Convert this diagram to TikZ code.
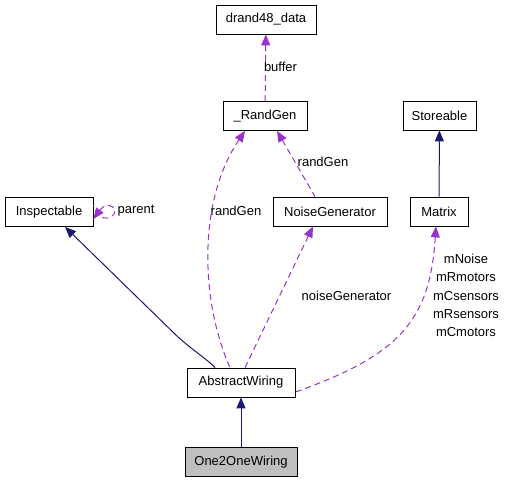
\documentclass[tikz,border=0pt]{standalone}
\usepackage{fontspec}
\setmainfont{Liberation Sans}
\usepackage{xcolor}
\usetikzlibrary{arrows.meta,positioning,calc}
\definecolor{edgeblue}{RGB}{25,25,112}
\definecolor{edgepurple}{RGB}{153,50,204}
\definecolor{boxgray}{RGB}{191,191,191}

\begin{document}
\begin{tikzpicture}[x=1pt, y=-1pt,
    cls/.style={draw=black, line width=0.8pt, fill=white, inner sep=0pt,
        minimum height=29pt, font=\fontsize{13}{15}\selectfont},
    lbl/.style={inner sep=0pt, font=\fontsize{13}{15}\selectfont},
    dep/.style={edgepurple, line width=1pt, dash pattern=on 6pt off 4pt,
        {Triangle[length=11pt,width=9pt]}-},
    inh/.style={edgeblue, line width=1pt,
        {Triangle[length=11pt,width=9pt]}-}]
    \useasboundingbox (0,0) rectangle (505,483);
    % Class boxes
    \node[cls, minimum width=100pt] (drand) at (266,19.5) {drand48\_data};
    \node[cls, minimum width=84pt] (randgen) at (265,116) {\_RandGen};
    \node[cls, minimum width=73pt] (storeable) at (439.5,115.5) {Storeable};
    \node[cls, minimum width=88pt] (inspectable) at (49,212) {Inspectable};
    \node[cls, minimum width=114pt] (noisegen) at (330,211.5) {NoiseGenerator};
    \node[cls, minimum width=58pt] (matrix) at (439,211.5) {Matrix};
    \node[cls, minimum width=108pt] (abstract) at (241,382.5) {AbstractWiring};
    \node[cls, minimum width=112pt, fill=boxgray] (one2one) at (241,462) {One2OneWiring};
    % Inheritance
    \draw[inh] (storeable) -- (matrix);
    \draw[inh] (abstract) -- (one2one);
    \draw[inh] ([xshift=16]inspectable.south) -- (178,337)
        .. controls (195,352) and (208,360) .. ([xshift=-26]abstract.north);
    % Usage relations
    \draw[dep] (drand) -- (randgen);
    \draw[dep] ([xshift=-20]randgen.south)
        .. controls (198,200) and (200,300) .. ([xshift=-11]abstract.north);
    \draw[dep] ([xshift=12]randgen.south) -- ([xshift=-15]noisegen.north);
    \draw[dep] ([yshift=-7]inspectable.east)
        .. controls (108,199) and (121,210) .. (112,216)
        .. controls (106,220) and (99,220) .. ([yshift=7]inspectable.east);
    \draw[dep] ([xshift=-17]noisegen.south) -- ([xshift=4]abstract.north);
    \draw[dep] ([xshift=-3]matrix.south)
        .. controls (430,320) and (400,355) .. ([yshift=-9.5]abstract.east);
    % Labels
    \node[lbl] (lbuffer) at (280.5,67) {buffer};
    \node[lbl] (lrandgena) at (236,211) {randGen};
    \node[lbl] (lrandgenb) at (323,162) {randGen};
    \node[lbl] (lparent) at (136,211) {parent};
    \node[lbl] (lnoise) at (346.5,296) {noiseGenerator};
    \node[lbl, align=center, font=\fontsize{13}{18.3}\selectfont] (lmatrix) at (466,295.5)
        {mNoise\\mRmotors\\mCsensors\\mRsensors\\mCmotors};
\end{tikzpicture}
\end{document}
